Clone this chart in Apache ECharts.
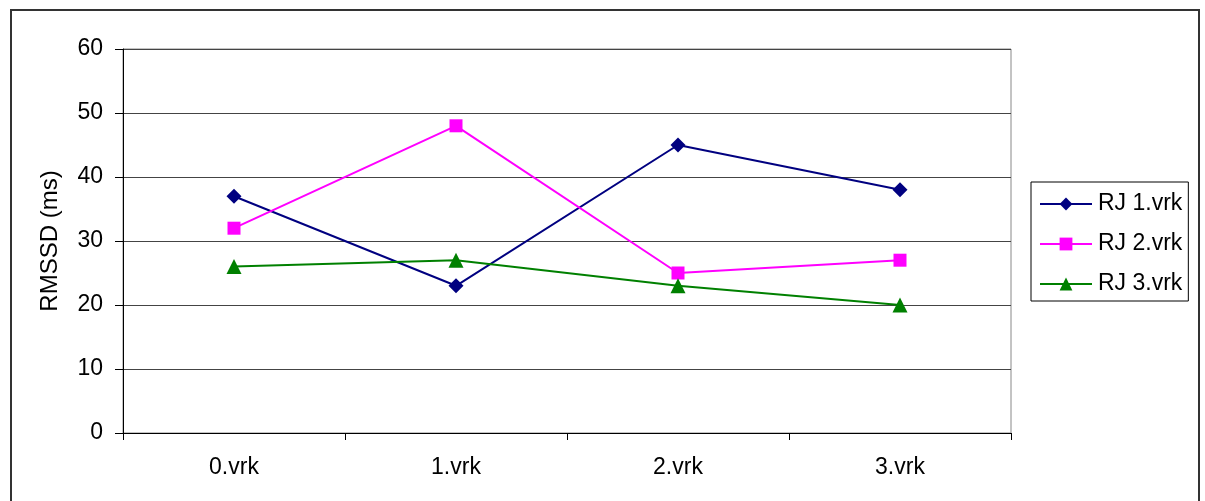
<!DOCTYPE html>
<html>
<head>
<meta charset="utf-8">
<script src="https://cdn.jsdelivr.net/npm/echarts@6/dist/echarts.min.js"></script>
<style>
  html, body { margin: 0; padding: 0; background: #fff; }
  #frame { position: absolute; left: 10px; top: 9px; width: 1186px; height: 500px;
           border-left: 2px solid #333; border-top: 2px solid #333; border-right: 2px solid #333; }
  #chart { position: absolute; left: 0; top: 0; width: 1205px; height: 501px; }
</style>
</head>
<body>
<div id="frame"></div>
<div id="chart"></div>
<script>
// Measurement rounds
const categories = ['0.vrk', '1.vrk', '2.vrk', '3.vrk'];
// RMSSD values (ms) per group
const rj1 = [37, 23, 45, 38];
const rj2 = [32, 48, 25, 27];
const rj3 = [26, 27, 23, 20];
const yTicks = { min: 0, max: 60, interval: 10 };

const font = 'Liberation Sans, Arial, sans-serif';
const chart = echarts.init(document.getElementById('chart'), null, { renderer: 'canvas' });

function lineSeries(name, data, color, symbol, size) {
  return {
    name, type: 'line', data,
    symbol, symbolSize: size,
    lineStyle: { color, width: 2 },
    itemStyle: { color },
    emphasis: { disabled: true },
    animation: false
  };
}

chart.setOption({
  animation: false,
  grid: {
    left: 123, right: 194, top: 49, bottom: 68,
    show: true, borderColor: '#888', borderWidth: 1, backgroundColor: 'transparent'
  },
  legend: {
    orient: 'vertical',
    left: 1031, top: 182,
    width: 159,
    padding: [9, 6, 4, 8],
    itemWidth: 52, itemHeight: 16, itemGap: 14,
    borderColor: '#000', borderWidth: 1,
    textStyle: { fontFamily: font, fontSize: 23, lineHeight: 26, color: '#000', padding: [0, 0, 0, 1] },
    data: ['RJ 1.vrk', 'RJ 2.vrk', 'RJ 3.vrk']
  },
  xAxis: {
    type: 'category',
    data: categories,
    boundaryGap: true,
    axisLine: { lineStyle: { color: '#000', width: 1 } },
    axisTick: { show: true, inside: false, length: 7, alignWithLabel: false, lineStyle: { color: '#000' } },
    axisLabel: { fontFamily: font, fontSize: 23, color: '#000', margin: 23 },
    splitLine: { show: false }
  },
  yAxis: {
    type: 'value',
    min: yTicks.min, max: yTicks.max, interval: yTicks.interval,
    name: 'RMSSD (ms)',
    nameLocation: 'middle',
    nameGap: 61,
    nameRotate: 90,
    nameTextStyle: { fontFamily: font, fontSize: 24, color: '#000' },
    axisLine: { show: true, lineStyle: { color: '#000', width: 1 } },
    axisTick: { show: true, inside: false, length: 8, lineStyle: { color: '#000' } },
    axisLabel: { fontFamily: font, fontSize: 23, color: '#000', margin: 20 },
    splitLine: { show: true, lineStyle: { color: '#444', width: 1 } }
  },
  series: [
    lineSeries('RJ 1.vrk', rj1, '#000080', 'diamond', 15),
    lineSeries('RJ 2.vrk', rj2, '#FF00FF', 'rect', 13),
    lineSeries('RJ 3.vrk', rj3, '#008000', 'triangle', 15)
  ]
});
</script>
</body>
</html>
